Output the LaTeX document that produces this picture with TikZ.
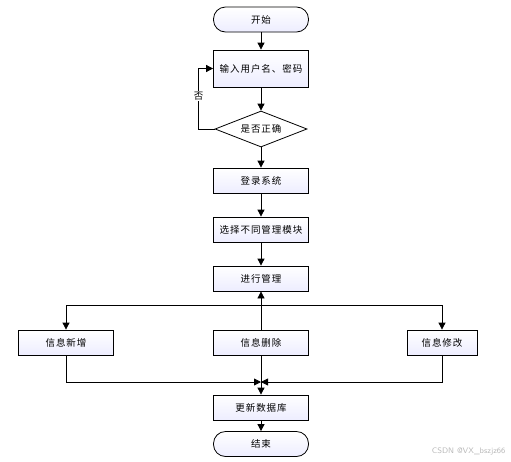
\documentclass[tikz,border=0pt]{standalone}
\usepackage{fontspec}
\newfontfamily\cjk[LetterSpace=10]{Noto Sans CJK SC}
\usetikzlibrary{shapes.geometric, arrows.meta}
\tikzset{
  paso/.style={draw, line width=0.8pt, top color=white, bottom color=blue!7,
    minimum width=95pt, minimum height=25pt, inner sep=0pt,
    font=\cjk\fontsize{9.5}{11}\selectfont},
  extremo/.style={paso, rounded corners=12pt},
  pregunta/.style={diamond, draw, line width=0.8pt, fill=white, aspect=2.5,
    minimum width=92pt, minimum height=36pt, inner sep=0pt,
    font=\cjk\fontsize{9.5}{11}\selectfont},
  flecha/.style={line width=0.8pt, -{Triangle[length=7pt,width=7pt]}},
  linea/.style={line width=0.8pt},
}
\begin{document}
\begin{tikzpicture}[x=1pt, y=-1pt]
    \useasboundingbox (0,0) rectangle (511,461);

    % columna central
    \node[extremo] (inicio) at (261,19.5) {开始};
    \node[paso, minimum height=37pt] (entrada) at (261,68.5) {输入用户名、密码};
    \node[pregunta] (valida) at (261,129) {是否正确};
    \node[paso] (login) at (261,180.5) {登录系统};
    \node[paso] (modulo) at (261,229.5) {选择不同管理模块};
    \node[paso] (gestion) at (261,278.5) {进行管理};

    % las tres operaciones
    \node[paso] (alta) at (66,342.5) {信息新增};
    \node[paso] (borrar) at (261,342.5) {信息删除};
    \node[paso, minimum width=70pt] (cambio) at (442,342.5) {信息修改};

    \node[paso] (actualiza) at (261,407.5) {更新数据库};
    \node[extremo] (fin) at (261,444) {结束};

    \coordinate (rama) at (261,305);
    \coordinate (junta) at (261,382);

    \draw[flecha] (inicio) -- (entrada);
    \draw[flecha] (entrada) -- (valida);
    \draw[flecha] (valida.west) -- ++(-16,0) |- (entrada.west)
        node[pos=0.27, fill=white, inner sep=1pt, font=\cjk\fontsize{9.5}{11}\selectfont] (no) {否};
    \draw[flecha] (valida) -- (login);
    \draw[flecha] (login) -- (modulo);
    \draw[flecha] (modulo) -- (gestion);

    \draw[flecha] (borrar) -- (gestion);
    \draw[flecha] (rama) -| (alta);
    \draw[flecha] (rama) -| (cambio);

    \draw[flecha] (alta) |- (junta);
    \draw[flecha] (cambio) |- (junta);
    \draw[linea] (borrar) -- (junta);
    \draw[flecha] (junta) -- (actualiza);
    \draw[flecha] (actualiza) -- (fin);

    \node[anchor=east, text=gray!55, font=\sffamily\fontsize{8}{9}\selectfont] (marca) at (509,451) {CSDN @VX\_bszjz66};
\end{tikzpicture}
\end{document}
